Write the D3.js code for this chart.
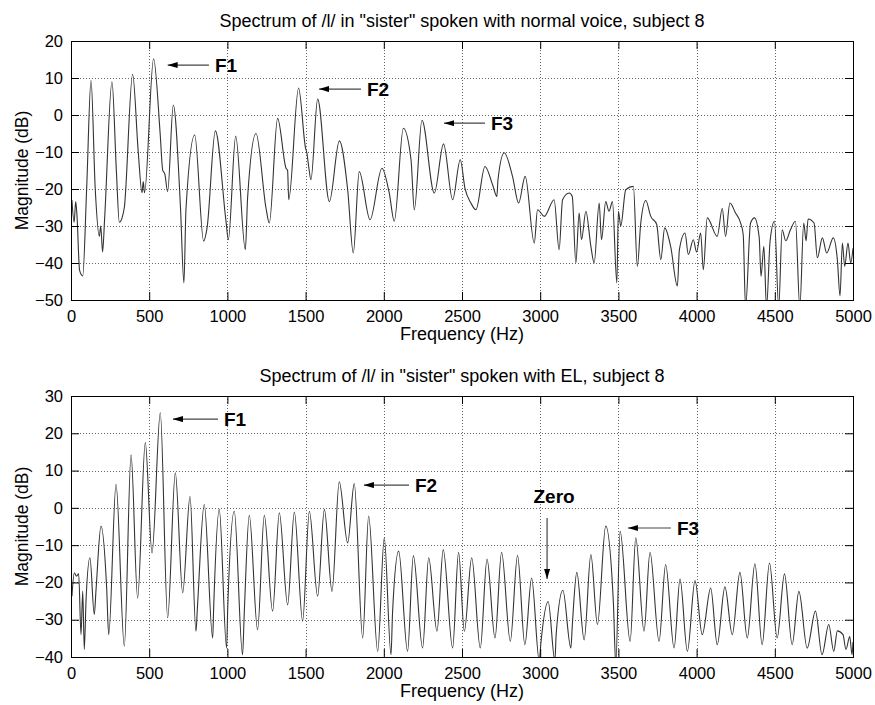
<!DOCTYPE html>
<html>
<head>
  <meta charset="utf-8">
  <script src="https://d3js.org/d3.v7.min.js"></script>
  <style>
    body { margin: 0; background: #fff; }
    svg text { font-family: "Liberation Sans", Arial, sans-serif; fill: #000; }
  </style>
  <script type="text/javascript">

    // tick values shared by both panels
    var freqTicks = [0, 500, 1000, 1500, 2000, 2500, 3000, 3500, 4000, 4500, 5000];
    var normalDbTicks = [-50, -40, -30, -20, -10, 0, 10, 20];
    var elDbTicks = [-40, -30, -20, -10, 0, 10, 20, 30];

    // spectrum of /l/, normal voice: [frequency Hz, magnitude dB]
    var normalSpectrum = [
      [6,-23],[20,-29],[30,-23.4],[38,-27],[55,-42],[75,-43.5],[100,-20],[128,9.4],[155,-20],
      [181,-32.8],[190,-30],[202,-37],[215,-28],[262,9],[290,-15],[309,-29],[325,-28],[341,-25],
      [394,11],[430,-10],[454,-21],[462,-18],[470,-21],[528,15.2],[570,-5],[586,-14.8],[600,-16],
      [618,-20.7],[654,2.7],[700,-25],[722,-45.4],[735,-25.6],[791,-5.4],[848,-34.1],[870,-30.5],
      [923,-4.3],[991,-28.7],[1006,-33.7],[1053,-5.7],[1115,-36.4],[1129,-22.5],[1183,-5],
      [1247,-25.2],[1268,-29.2],[1321,-0.9],[1375,-14.4],[1385,-15],[1392,-22.9],[1455,7.3],
      [1500,-9],[1507,-10],[1520,-14],[1534,-17.5],[1577,4.3],[1652,-23.4],[1716,-7.0],
      [1769,-20.2],[1805,-37.3],[1843,-15.3],[1912,-28.3],[1988,-14.4],[2035,-21.1],[2067,-28.7],
      [2125,-3.6],[2174,-12.1],[2195,-25.6],[2244,-1.4],[2323,-21.1],[2382,-7.8],[2440,-22.9],
      [2489,-12.1],[2519,-19.8],[2557,-23.8],[2589,-25.6],[2647,-13.9],[2696,-18.9],[2723,-22],
      [2730,-17.5],[2770,-10.2],[2823,-16.6],[2862,-23.8],[2904,-16.6],[2962,-34.6],[2983,-25.6],
      [3026,-27.4],[3089,-22.9],[3121,-36.4],[3143,-22.9],[3185,-21.1],[3205,-22],[3228,-40],
      [3249,-26.5],[3264,-33.7],[3292,-26],[3324,-35.5],[3345,-40],[3377,-23.8],[3392,-33.7],
      [3419,-23.4],[3440,-26],[3462,-23.4],[3490,-45.4],[3500,-26],[3515,-30],[3547,-20.2],
      [3596,-19.3],[3621,-40.9],[3643,-29.2],[3675,-23.1],[3707,-27.4],[3745,-29.6],[3771,-39.1],
      [3796,-30.5],[3834,-35.5],[3877,-46.2],[3890,-36.4],[3926,-31.9],[3947,-37.7],[3979,-33.7],
      [4000,-37],[4026,-31.9],[4043,-41.8],[4068,-27.8],[4132,-32.8],[4164,-25.2],[4185,-32.8],
      [4213,-23.8],[4249,-26.5],[4280,-29],[4298,-32.3],[4313,-52],[4345,-29.2],[4370,-27.8],
      [4400,-33],[4412,-43.6],[4430,-35.5],[4447,-52],[4470,-34],[4498,-28.7],[4525,-52],
      [4547,-31],[4570,-34],[4600,-31],[4632,-28.7],[4660,-52],[4685,-29.2],[4700,-34],
      [4713,-28.1],[4751,-29.2],[4772,-38.6],[4804,-33.2],[4832,-37.3],[4874,-33.2],[4900,-39.1],
      [4917,-48.9],[4932,-34.6],[4947,-40.9],[4968,-34.6],[4985,-40],[5000,-36]
    ];

    // spectrum of /l/, electrolarynx
    var elSpectrum = [
      [6,-23.7],[21,-17.4],[35,-18.3],[49,-17.7],[64,-34],[75,-22.4],[85,-38],[96,-25],
      [121,-13.4],[149,-28.6],[160,-22],[192,-4.9],[228,-21.5],[241,-34],[288,6.3],[341,-37.1],
      [384,14.2],[426,-24.2],[475,17.5],[518,-12.1],[571,25.5],[618,-29.5],[667,9.4],[714,-22.8],
      [761,3.1],[799,-33.1],[808,-27],[852,0.9],[906,-34.9],[912,-27],[948,-0.4],[995,-37.6],
      [1002,-27],[1044,-0.9],[1097,-39.4],[1108,-28],[1140,-2],[1193,-32.7],[1236,-2],
      [1289,-27.7],[1332,-1.3],[1385,-26],[1428,-1.1],[1481,-30.4],[1524,-0.9],[1577,-23.7],
      [1620,-0.4],[1669,-22.4],[1715,7],[1769,-9.4],[1811,6.5],[1865,-34.9],[1903,-2.2],
      [1961,-38.5],[2003,-8],[2046,-39.4],[2056,-28],[2095,-11.6],[2152,-38.5],[2189,-12.8],
      [2248,-37.6],[2287,-13.4],[2340,-33.1],[2380,-11.2],[2440,-37.6],[2478,-11.9],[2515,-33.1],
      [2562,-13.4],[2617,-37.6],[2660,-13.7],[2711,-34.9],[2753,-11.9],[2809,-35.8],[2855,-12.7],
      [2902,-36.7],[2945,-18.8],[2994,-41],[3005,-36],[3051,-25.1],[3094,-41],[3102,-34],
      [3145,-22.1],[3196,-37.6],[3206,-31],[3234,-17.3],[3281,-35.4],[3324,-12.5],[3366,-31.3],
      [3419,-4.9],[3468,-25.5],[3483,-42],[3511,-6.3],[3575,-35.8],[3611,-8],[3664,-33.1],
      [3702,-11.9],[3760,-35.8],[3802,-15.2],[3856,-37.6],[3894,-19.1],[3941,-38.5],[3990,-19.5],
      [4036,-34],[4090,-21.5],[4132,-36.7],[4181,-21.2],[4228,-34],[4277,-17.3],[4324,-34.9],
      [4373,-15],[4419,-36.7],[4466,-14.8],[4515,-34.9],[4562,-17.7],[4611,-36.7],[4654,-22.4],
      [4707,-37.6],[4760,-27.7],[4802,-39.4],[4845,-31.3],[4877,-38.5],[4900,-33],[4936,-34],
      [4955,-38],[4979,-34.5],[4994,-39.4],[5000,-36]
    ];

    // annotations in data units: label, arrow tip [f, dB], arrow tail [f, dB]
    var normalNotes = [
      { label: "F1", tip: [618, 13.5], tail: [882, 13.5] },
      { label: "F2", tip: [1586, 7.0], tail: [1854, 7.0] },
      { label: "F3", tip: [2385, -2.2], tail: [2647, -2.2] }
    ];
    var elNotes = [
      { label: "F1", tip: [652, 23.8], tail: [940, 23.8] },
      { label: "F2", tip: [1873, 6.1], tail: [2161, 6.1] },
      { label: "F3", tip: [3561, -5.4], tail: [3836, -5.4] },
      { label: "Zero", tip: [3044, -19.1], tail: [3044, -2.7], vertical: true }
    ];

    function draw() {
      var width = 875, height = 705;
      var left = 71, right = 853;

      var svg = d3.select("body").append("svg")
          .attr("width", width)
          .attr("height", height);

      var defs = svg.append("defs");
      defs.append("marker")
          .attr("id", "head")
          .attr("viewBox", "0 0 10 6")
          .attr("refX", 10).attr("refY", 3)
          .attr("markerWidth", 10).attr("markerHeight", 6)
          .attr("markerUnits", "userSpaceOnUse")
          .attr("orient", "auto")
        .append("path")
          .attr("d", "M0,0 L10,3 L0,6 Z")
          .attr("fill", "#000");

      var panels = [
        { top: 41, bottom: 300, domain: [-50, 20], ticks: normalDbTicks, data: normalSpectrum,
          notes: normalNotes, title: "Spectrum of /l/ in \"sister\" spoken with normal voice, subject 8" },
        { top: 396, bottom: 657, domain: [-40, 30], ticks: elDbTicks, data: elSpectrum,
          notes: elNotes, title: "Spectrum of /l/ in \"sister\" spoken with EL, subject 8" }
      ];

      panels.forEach(function (p, i) {
        var x = d3.scaleLinear().domain([0, 5000]).range([left, right]);
        var y = d3.scaleLinear().domain(p.domain).range([p.bottom, p.top]);
        var g = svg.append("g");

        defs.append("clipPath").attr("id", "clip" + i)
          .append("rect")
            .attr("x", left).attr("y", p.top)
            .attr("width", right - left).attr("height", p.bottom - p.top);

        // dotted grid
        g.append("g").selectAll("line").data(freqTicks.slice(1, -1)).enter().append("line")
            .attr("x1", function (d) { return Math.round(x(d)) + 0.5; })
            .attr("x2", function (d) { return Math.round(x(d)) + 0.5; })
            .attr("y1", p.top).attr("y2", p.bottom)
            .attr("stroke", "#666").attr("stroke-dasharray", "1,2");
        g.append("g").selectAll("line").data(p.ticks.slice(1, -1)).enter().append("line")
            .attr("y1", function (d) { return Math.round(y(d)) + 0.5; })
            .attr("y2", function (d) { return Math.round(y(d)) + 0.5; })
            .attr("x1", left).attr("x2", right)
            .attr("stroke", "#666").attr("stroke-dasharray", "1,2");

        // spectrum
        var line = d3.line()
            .x(function (d) { return x(d[0]); })
            .y(function (d) { return y(d[1]); })
            .curve(d3.curveMonotoneX);
        g.append("path")
            .datum(p.data)
            .attr("clip-path", "url(#clip" + i + ")")
            .attr("d", line)
            .attr("fill", "none")
            .attr("stroke", "#333")
            .attr("stroke-width", 1.1);

        // axes, MATLAB style with inward ticks on all four sides
        var xb = g.append("g").attr("transform", "translate(0," + p.bottom + ")")
            .call(d3.axisBottom(x).tickValues(freqTicks).tickSize(-8).tickPadding(10)
              .tickFormat(d3.format("d")));
        var xt = g.append("g").attr("transform", "translate(0," + p.top + ")")
            .call(d3.axisTop(x).tickValues(freqTicks).tickSize(-8).tickFormat(""));
        var yl = g.append("g").attr("transform", "translate(" + left + ",0)")
            .call(d3.axisLeft(y).tickValues(p.ticks).tickSize(-8).tickPadding(8)
              .tickFormat(d3.format("d")));
        var yr = g.append("g").attr("transform", "translate(" + right + ",0)")
            .call(d3.axisRight(y).tickValues(p.ticks).tickSize(-8).tickFormat(""));
        [xb, xt, yl, yr].forEach(function (a) {
          a.selectAll("path").remove();
          a.selectAll("line").attr("stroke", "#000");
          a.selectAll("text").style("font-size", "16.5px").attr("fill", "#000");
        });

        g.append("rect")
            .attr("x", left + 0.5).attr("y", p.top + 0.5)
            .attr("width", right - left).attr("height", p.bottom - p.top)
            .attr("fill", "none").attr("stroke", "#000");

        g.append("text")
            .attr("x", (left + right) / 2).attr("y", p.top - 14)
            .attr("text-anchor", "middle")
            .style("font-size", "18px")
            .text(p.title);
        g.append("text")
            .attr("x", (left + right) / 2).attr("y", p.bottom + 40)
            .attr("text-anchor", "middle")
            .style("font-size", "18px")
            .text("Frequency (Hz)");
        g.append("text")
            .attr("transform", "translate(28," + (p.top + p.bottom) / 2 + ") rotate(-90)")
            .attr("text-anchor", "middle")
            .style("font-size", "17.5px")
            .text("Magnitude (dB)");

        // formant annotations
        p.notes.forEach(function (n) {
          g.append("line")
              .attr("x1", x(n.tail[0])).attr("y1", y(n.tail[1]))
              .attr("x2", x(n.tip[0])).attr("y2", y(n.tip[1]))
              .attr("stroke", "#444").attr("stroke-width", 1.2)
              .attr("marker-end", "url(#head)");
          if (n.vertical) {
            g.append("text")
                .attr("x", x(n.tail[0]) + 7).attr("y", y(n.tail[1]) - 15)
                .attr("text-anchor", "middle")
                .style("font-size", "19px").style("font-weight", "bold")
                .text(n.label);
          } else {
            g.append("text")
                .attr("x", x(n.tail[0]) + 6).attr("y", y(n.tail[1]) + 7)
                .style("font-size", "19px").style("font-weight", "bold")
                .text(n.label);
          }
        });
      });
    }
  </script>
</head>
<body>
  <script type="text/javascript">
    draw();
  </script>
</body>
</html>
